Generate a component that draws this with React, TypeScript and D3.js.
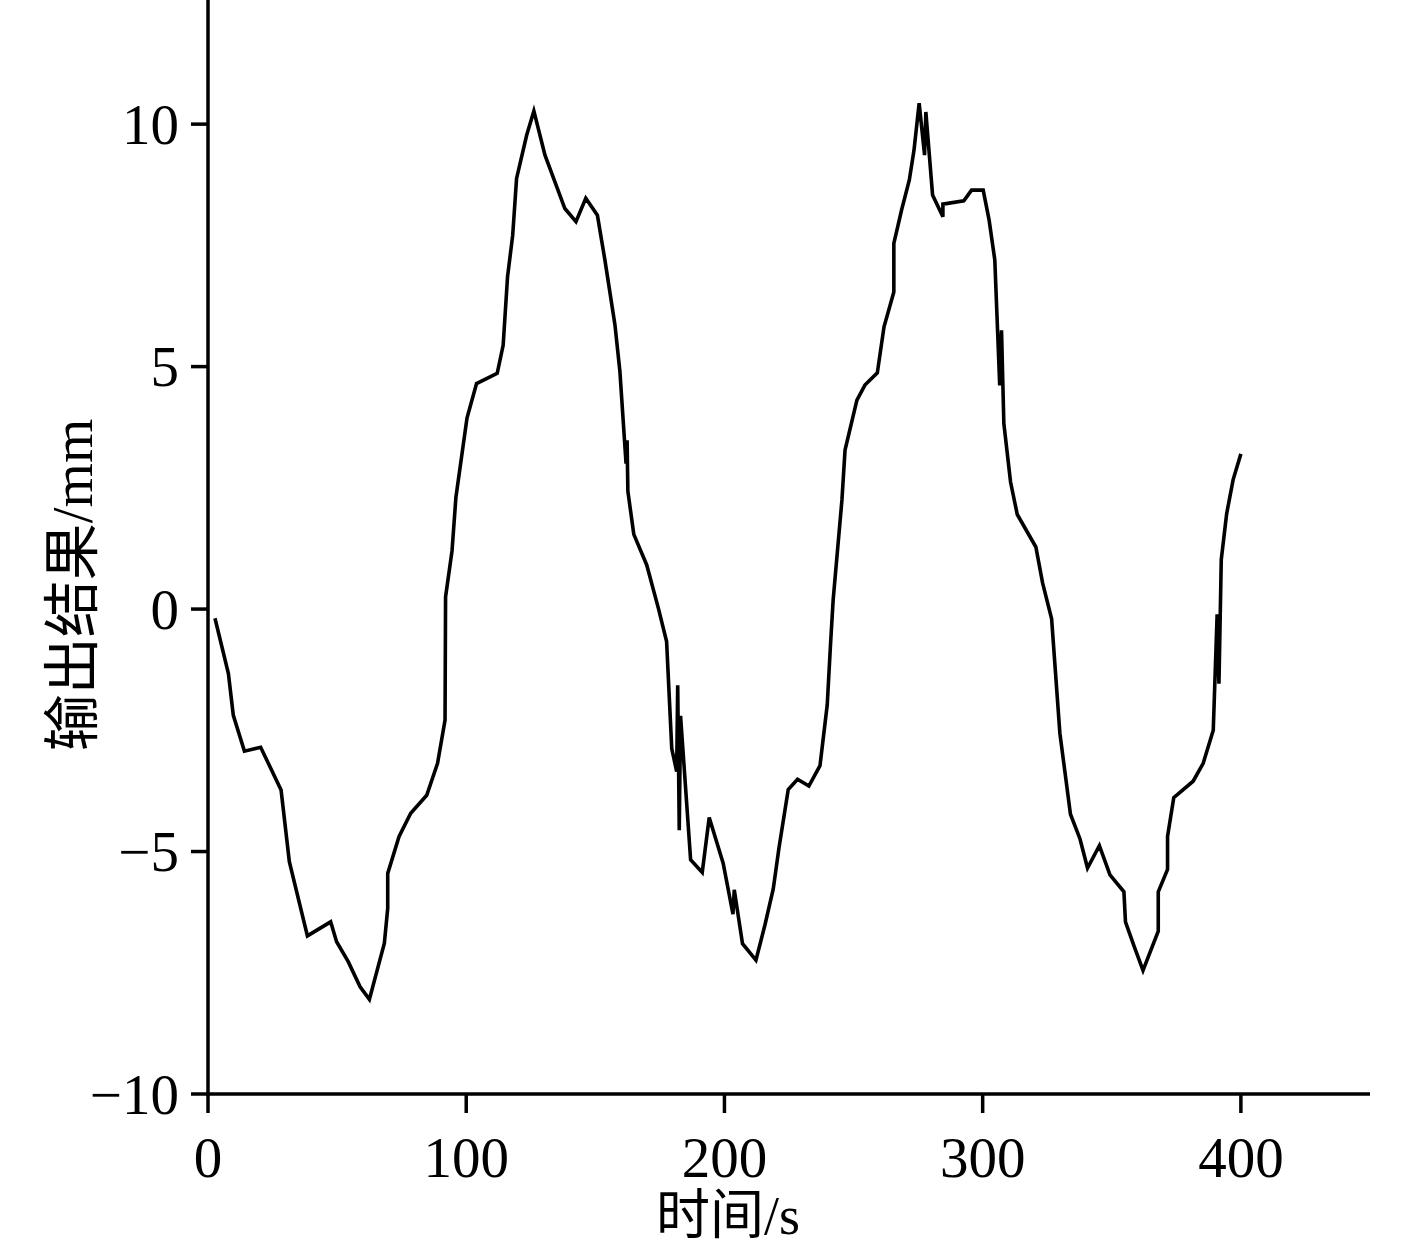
import React from "react";
import * as d3 from "d3";

const timeS: number[] = [
  2.7, 7.9, 9.8, 14.1, 20.4, 28.3, 31.5, 38.5, 47.5, 49.8, 54.3, 58.9, 62.5, 68.3, 69.6, 69.6, 74.0, 78.5, 84.7, 88.9,
  91.8, 92.0, 94.5, 96.0, 100.3, 104.0, 112.0, 114.3, 116.0, 118.0, 119.5, 123.4, 126.2, 130.5, 138.2, 142.5, 146.3, 150.8, 153.7, 157.6,
  159.5, 161.9, 162.3, 162.6, 164.9, 169.9, 174.4, 177.6, 179.6, 181.5, 181.9, 182.5, 183.0, 186.9, 191.4, 194.1, 199.5, 203.3, 203.8, 207.0,
  212.2, 215.7, 218.9, 221.1, 224.7, 228.3, 232.7, 237.0, 239.8, 241.1, 242.1, 245.5, 246.7, 251.3, 254.4, 259.2, 261.8, 265.6, 265.6, 268.6,
  271.6, 273.4, 275.4, 277.5, 278.0, 280.6, 284.6, 284.6, 292.7, 295.7, 300.2, 302.5, 304.7, 306.6, 307.3, 308.2, 310.8, 313.4, 320.6, 323.2,
  326.7, 329.9, 334.0, 337.7, 340.6, 345.2, 349.3, 354.7, 355.3, 358.7, 362.1, 368.0, 368.0, 371.6, 371.6, 374.0, 381.5, 385.4, 389.3, 390.8,
  391.5, 392.4, 394.5, 397.0, 400.0,
];

const outputMm: number[] = [
  -0.19, -1.33, -2.19, -2.93, -2.85, -3.73, -5.21, -6.74, -6.45, -6.86, -7.27, -7.79, -8.05, -6.89, -6.17, -5.45, -4.69, -4.21, -3.84, -3.18,
  -2.29, 0.25, 1.2, 2.3, 3.94, 4.65, 4.86, 5.44, 6.85, 7.71, 8.88, 9.77, 10.27, 9.36, 8.26, 7.99, 8.47, 8.12, 7.2, 5.86,
  4.91, 3.0, 3.48, 2.43, 1.54, 0.91, 0.02, -0.67, -2.88, -3.35, -1.57, -4.56, -2.2, -5.17, -5.43, -4.3, -5.24, -6.29, -5.79, -6.9,
  -7.24, -6.51, -5.77, -4.93, -3.72, -3.51, -3.65, -3.23, -1.98, -0.71, 0.19, 2.25, 3.28, 4.31, 4.62, 4.87, 5.82, 6.54, 7.54, 8.23,
  8.85, 9.46, 10.43, 9.36, 10.25, 8.54, 8.09, 8.35, 8.42, 8.64, 8.64, 8.02, 7.2, 4.61, 5.75, 3.83, 2.62, 1.95, 1.28, 0.54,
  -0.2, -2.56, -4.23, -4.74, -5.34, -4.88, -5.48, -5.83, -6.45, -6.96, -7.45, -6.64, -5.83, -5.37, -4.69, -3.89, -3.55, -3.18, -2.5, -0.11,
  -1.54, 1.02, 1.97, 2.67, 3.2,
];

const xTicks: number[] = [0, 100, 200, 300, 400];
const yTicks: number[] = [-10, -5, 0, 5, 10];
const xLabel = "时间/s";
const yLabel = "输出结果/mm";

const W = 1417;
const H = 1249;
const FONT = "'Liberation Serif', 'Times New Roman', 'Noto Sans CJK SC', serif";

export default function App() {
  const x = d3.scaleLinear().domain([0, 450]).range([208, 1370]);
  const y = d3.scaleLinear().domain([-10, 12.56]).range([1094, 0]);
  const pts: [number, number][] = timeS.map((t, i) => [t, outputMm[i]]);
  const line = d3
    .line<[number, number]>()
    .x((d) => x(d[0]))
    .y((d) => y(d[1]));
  const fmt = (v: number) => (v < 0 ? "\u2212" + Math.abs(v) : String(v));
  const x0 = x(0);
  const yBase = y(-10);
  return (
    <svg
      width={W}
      height={H}
      style={{ position: "absolute", left: 0, top: 0, background: "#fff" }}
      fontFamily={FONT}
    >
      <rect x={0} y={0} width={W} height={H} fill="#fff" />
      <path d={line(pts) || ""} fill="none" stroke="#000" strokeWidth={3.6} strokeLinejoin="miter" />
      {/* y axis */}
      <line x1={x0} x2={x0} y1={y.range()[1]} y2={yBase + 1.75} stroke="#000" strokeWidth={3.5} />
      {yTicks.map((t) => (
        <g key={"y" + t}>
          <line x1={x0 - 17} x2={x0} y1={y(t)} y2={y(t)} stroke="#000" strokeWidth={3.5} />
          <text x={x0 - 29} y={y(t)} textAnchor="end" dominantBaseline="central" fontSize={57} fill="#000">
            {fmt(t)}
          </text>
        </g>
      ))}
      {/* x axis */}
      <line x1={x0 - 1.75} x2={x.range()[1]} y1={yBase} y2={yBase} stroke="#000" strokeWidth={3.5} />
      {xTicks.map((t) => (
        <g key={"x" + t}>
          <line x1={x(t)} x2={x(t)} y1={yBase} y2={yBase + 19} stroke="#000" strokeWidth={3.5} />
          <text x={x(t)} y={1177} textAnchor="middle" fontSize={57} fill="#000">
            {fmt(t)}
          </text>
        </g>
      ))}
      <text x={728} y={1234} textAnchor="middle" fontSize={54} fill="#000">
        {xLabel}
      </text>
      <text
        transform={`translate(72, 585) rotate(-90)`}
        textAnchor="middle"
        dominantBaseline="central"
        fontSize={57}
        fill="#000"
      >
        {yLabel}
      </text>
    </svg>
  );
}
